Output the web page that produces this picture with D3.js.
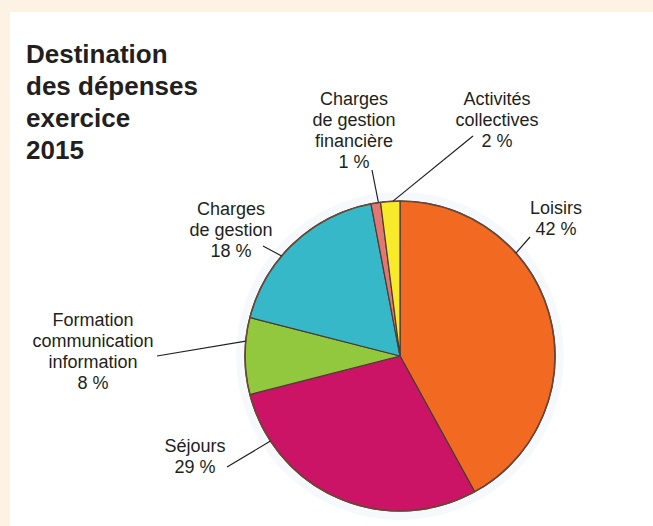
<!DOCTYPE html>
<html>
<head>
<meta charset="utf-8">
<script src="https://cdn.jsdelivr.net/npm/d3@7"></script>
<style>
  html, body { margin: 0; padding: 0; background: #fdf3e4; }
  svg { display: block; }
</style>
</head>
<body>
<svg id="chart" width="653" height="526"></svg>
<script>
// ---- data ----
const titleLines = ["Destination", "des dépenses", "exercice", "2015"];
const categories = [
  ["Loisirs"],
  ["Séjours"],
  ["Formation", "communication", "information"],
  ["Charges", "de gestion"],
  ["Charges", "de gestion", "financière"],
  ["Activités", "collectives"]
];
const values = [42, 29, 8, 18, 1, 2];
const colors = ["#f26a21", "#cc1466", "#92c83e", "#37b8c8", "#e07772", "#f6ea2a"];

// ---- layout (label anchors) ----
const labelLayout = [
  { x: 556, y: 214, lx: 530, ly: 237, edge: 48.4 },
  { x: 195, y: 452, lx: 227, ly: 467, edge: 236.7 },
  { x: 93,  y: 326, lx: 157, ly: 356, edge: 275.5 },
  { x: 231, y: 215, lx: 263, ly: 246, edge: 310.2 },
  { x: 354, y: 105, lx: 372, ly: 170, edge: 352 },
  { x: 497, y: 105, lx: 473, ly: 136, edge: 357.4 }
];

const svg = d3.select("#chart");
const W = 653, H = 526;

svg.append("rect").attr("x", 0).attr("y", 0).attr("width", W).attr("height", H).attr("fill", "#fdf3e4");
svg.append("rect").attr("x", 10).attr("y", 12).attr("width", W - 10).attr("height", H - 12).attr("fill", "#ffffff");

// title
const title = svg.append("text")
  .attr("font-family", "'Liberation Sans', Arial, sans-serif")
  .attr("font-weight", "bold")
  .attr("font-size", 26)
  .attr("fill", "#231f20");
titleLines.forEach((t, i) => {
  title.append("tspan").attr("x", 26).attr("y", 63 + i * 32).text(t);
});

// pie
const cx = 400, cy = 356, r = 155;
const pie = d3.pie().sort(null).value(d => d)(values);
const arc = d3.arc().innerRadius(0).outerRadius(r);

const g = svg.append("g").attr("transform", `translate(${cx},${cy})`);

// soft halo
g.append("circle").attr("r", r + 5).attr("fill", "none")
  .attr("stroke", "#e8f1f6").attr("stroke-width", 8).attr("opacity", 0.45);

g.selectAll("path.slice")
  .data(pie)
  .join("path")
  .attr("class", "slice")
  .attr("d", arc)
  .attr("fill", (d, i) => colors[i])
  .attr("stroke", "#4b3b33")
  .attr("stroke-width", 1.2)
  .attr("stroke-linejoin", "round");

g.append("circle").attr("r", r).attr("fill", "none")
  .attr("stroke", "#6b4636").attr("stroke-width", 1.6);

// labels + leaders
const lab = svg.append("g")
  .attr("font-family", "'Liberation Sans', Arial, sans-serif")
  .attr("font-size", 18)
  .attr("fill", "#231f20")
  .attr("text-anchor", "middle");

categories.forEach((lines, i) => {
  const L = labelLayout[i];
  const all = lines.concat([values[i] + " %"]);
  const t = lab.append("text");
  all.forEach((s, j) => {
    t.append("tspan").attr("x", L.x).attr("y", L.y + j * 21).text(s);
  });
  const a = L.edge * Math.PI / 180;
  svg.append("line")
    .attr("x1", L.lx).attr("y1", L.ly)
    .attr("x2", cx + r * Math.sin(a)).attr("y2", cy - r * Math.cos(a))
    .attr("stroke", "#231f20").attr("stroke-width", 1.2);
});
</script>
</body>
</html>
